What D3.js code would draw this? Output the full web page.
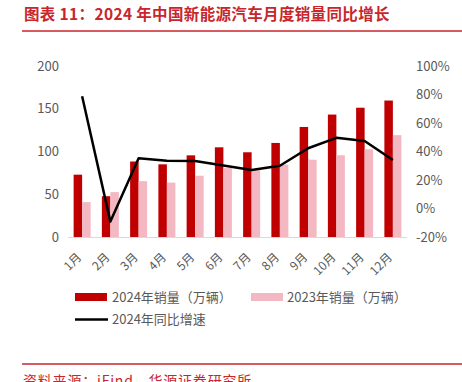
<!DOCTYPE html>
<html><head><meta charset="utf-8">
<script src="https://cdn.jsdelivr.net/npm/d3@7"></script>
<style>body{margin:0;background:#fff}svg{display:block}</style>
</head><body>
<svg id="c" width="462" height="382"></svg>
<script>
const months = ["1月","2月","3月","4月","5月","6月","7月","8月","9月","10月","11月","12月"];
const sales2024 = [72.9, 47.7, 88.3, 85.0, 95.5, 104.9, 99.1, 110.0, 128.7, 143.2, 151.2, 159.6];
const sales2023 = [40.8, 52.5, 65.3, 63.6, 71.7, 80.6, 78.0, 84.6, 90.4, 95.6, 102.6, 119.1];
const yoy2024 = [78.8, -9.2, 35.3, 33.5, 33.3, 30.1, 27.0, 30.0, 42.3, 49.6, 47.4, 34.0];
const leftTicks = [0, 50, 100, 150, 200];
const rightTicks = [-20, 0, 20, 40, 60, 80, 100];
const seriesNames = ["2024年销量（万辆）", "2023年销量（万辆）", "2024年同比增速"];
const titleText = "图表 11：2024 年中国新能源汽车月度销量同比增长";
const sourceText = "资料来源：iFind，华源证券研究所";

const RED = "#C00000", PINK = "#F4B8C2", GREY = "#595959", TRED = "#C8262C";
const svg = d3.select("#c");
const font = "'Noto Sans CJK SC', 'Noto Sans', sans-serif";

// title
svg.append("text").attr("x", 24).attr("y", 20).attr("fill", TRED)
  .attr("font-family", font).attr("font-weight", "bold").attr("font-size", 15.5)
  .attr("letter-spacing", 0.35).text(titleText);
svg.append("line").attr("x1", 22).attr("x2", 462).attr("y1", 31).attr("y2", 31)
  .attr("stroke", TRED).attr("stroke-width", 1.5);

const x0 = d3.scaleBand().domain(months).range([68, 407]);
const yL = d3.scaleLinear().domain([0, 200]).range([237, 66]);
const yR = d3.scaleLinear().domain([-20, 100]).range([237, 66]);

const bw = 8.5;
const g = svg.append("g");
g.selectAll("rect.a").data(months).join("rect").attr("class","a")
  .attr("x", d => x0(d) + x0.bandwidth()/2 - bw).attr("width", bw)
  .attr("y", (d,i) => yL(sales2024[i])).attr("height", (d,i) => yL(0) - yL(sales2024[i]))
  .attr("fill", RED);
g.selectAll("rect.b").data(months).join("rect").attr("class","b")
  .attr("x", d => x0(d) + x0.bandwidth()/2).attr("width", bw)
  .attr("y", (d,i) => yL(sales2023[i])).attr("height", (d,i) => yL(0) - yL(sales2023[i]))
  .attr("fill", PINK);

// baseline
svg.append("line").attr("x1", 68).attr("x2", 407).attr("y1", yL(0)+0.5).attr("y2", yL(0)+0.5)
  .attr("stroke", "#d9d9d9").attr("stroke-width", 1);

// line
const line = d3.line().x((d,i) => x0(months[i]) + x0.bandwidth()/2).y(d => yR(d));
svg.append("path").datum(yoy2024).attr("d", line).attr("fill", "none")
  .attr("stroke", "#000").attr("stroke-width", 2.5).attr("stroke-linejoin", "round");

// left axis
const axL = svg.append("g").attr("transform", "translate(59,0)")
  .call(d3.axisLeft(yL).tickValues(leftTicks).tickSize(0).tickPadding(0));
axL.select(".domain").remove();
axL.selectAll("text").attr("font-family", font).attr("font-size", 13).attr("fill", GREY);

// right axis
const axR = svg.append("g").attr("transform", "translate(416,0)")
  .call(d3.axisRight(yR).tickValues(rightTicks).tickSize(0).tickPadding(0).tickFormat(d => d + "%"));
axR.select(".domain").remove();
axR.selectAll("text").attr("font-family", font).attr("font-size", 13).attr("fill", GREY);

// x axis labels
const axB = svg.append("g").attr("transform", `translate(0,${yL(0)})`)
  .call(d3.axisBottom(x0).tickSize(0).tickPadding(0));
axB.select(".domain").remove();
axB.selectAll("text").attr("font-family", font).attr("font-size", 12).attr("fill", GREY)
  .attr("text-anchor", "end").attr("dy", null).attr("y", 0)
  .attr("transform", "translate(0,21) rotate(-45)");

// legend
const lg = svg.append("g").attr("font-family", font).attr("font-size", 13).attr("fill", GREY);
lg.append("rect").attr("x", 75).attr("y", 293).attr("width", 32).attr("height", 8).attr("fill", RED);
lg.append("text").attr("x", 112).attr("y", 302).text(seriesNames[0]);
lg.append("rect").attr("x", 251).attr("y", 293).attr("width", 32).attr("height", 8).attr("fill", PINK);
lg.append("text").attr("x", 287).attr("y", 302).text(seriesNames[1]);
lg.append("line").attr("x1", 75).attr("x2", 108).attr("y1", 319.5).attr("y2", 319.5)
  .attr("stroke", "#000").attr("stroke-width", 2.5);
lg.append("text").attr("x", 112).attr("y", 324).text(seriesNames[2]);

// footer
svg.append("line").attr("x1", 22).attr("x2", 462).attr("y1", 364).attr("y2", 364)
  .attr("stroke", TRED).attr("stroke-width", 1.5);
svg.append("text").attr("x", 23).attr("y", 386).attr("fill", TRED)
  .attr("font-family", font).attr("font-size", 14).attr("letter-spacing", 0.8).text(sourceText);
</script>
</body></html>
